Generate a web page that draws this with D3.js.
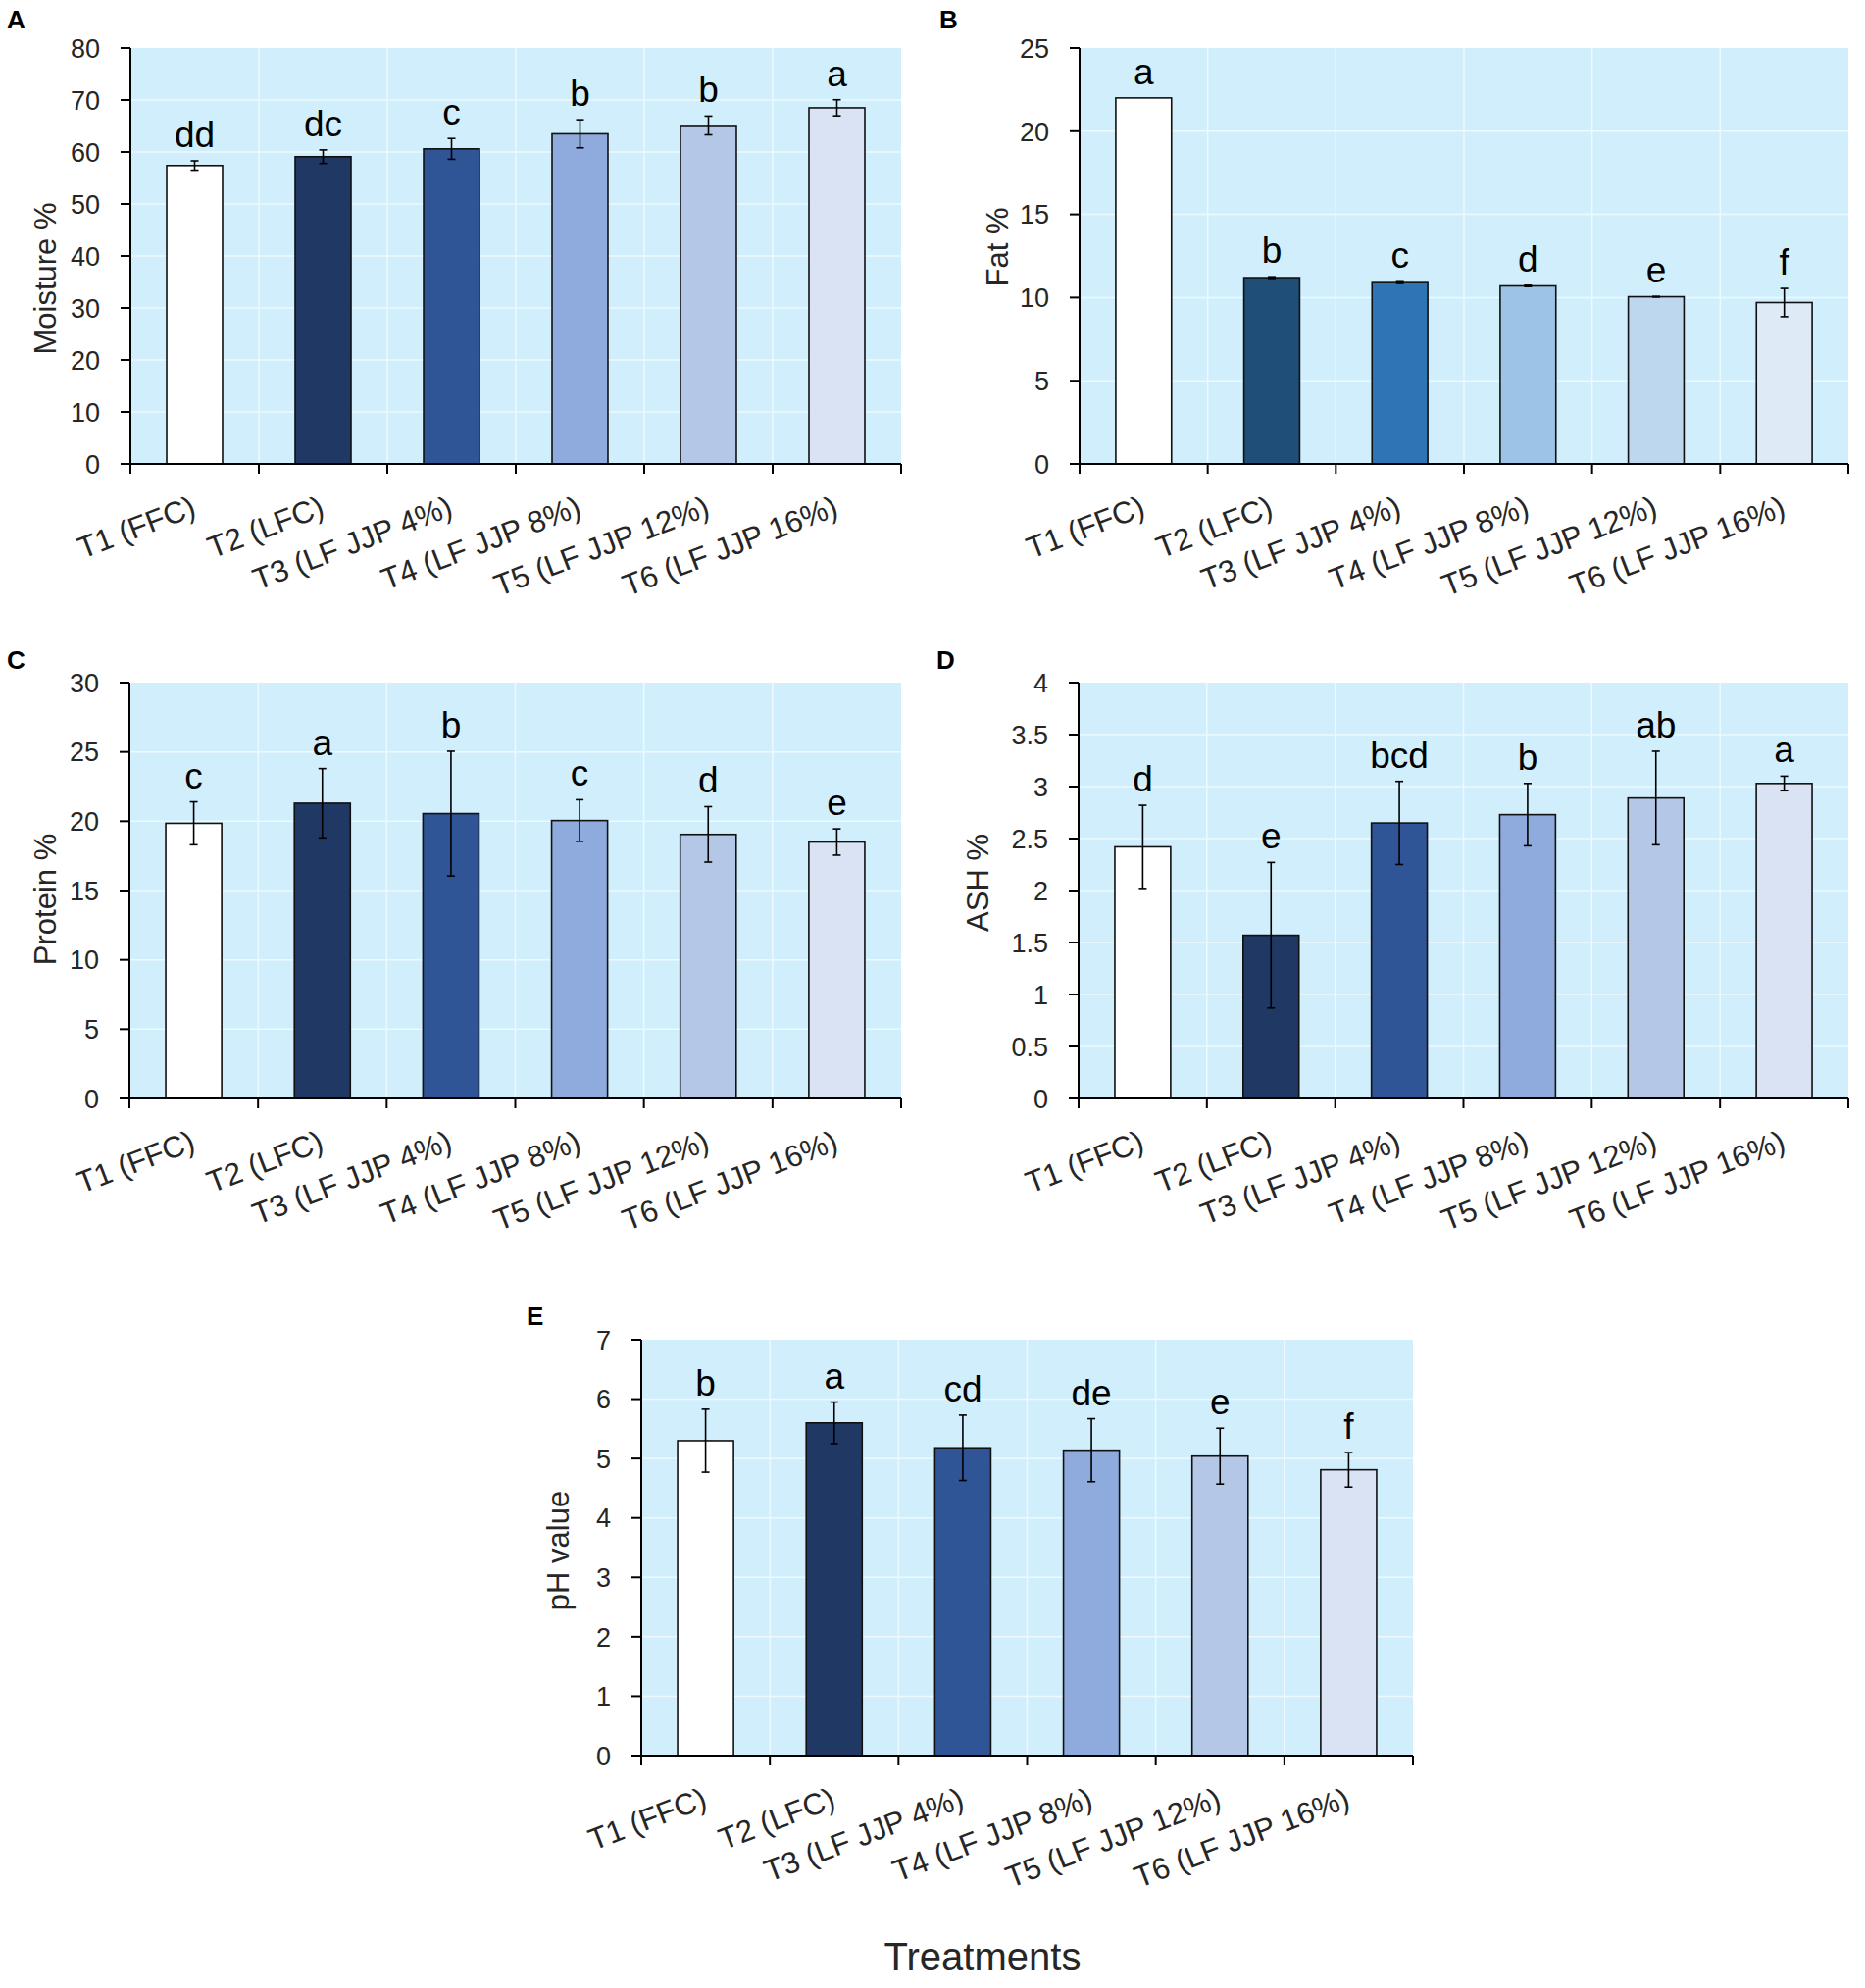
<!DOCTYPE html>
<html>
<head>
<meta charset="utf-8">
<script src="https://cdn.jsdelivr.net/npm/d3@7/dist/d3.min.js"></script>
<style>
  body { margin: 0; background: #fff; }
  svg { display: block; font-family: "Liberation Sans", Arial, sans-serif; }
</style>
</head>
<body>
<svg id="chart" width="1902" height="2027"></svg>
<script>
// treatments on the x axis
var categories = ["T1 (FFC)", "T2 (LFC)", "T3 (LF JJP 4%)", "T4 (LF JJP 8%)", "T5 (LF JJP 12%)", "T6 (LF JJP 16%)"];

// A - moisture
var moisture = [57.4, 59.1, 60.6, 63.5, 65.1, 68.5];
var moistureErr = [0.9, 1.3, 2.0, 2.7, 1.8, 1.55];
var moistureLetters = ["dd", "dc", "c", "b", "b", "a"];

// B - fat
var fat = [22.0, 11.2, 10.9, 10.7, 10.05, 9.7];
var fatErr = [0, 0.05, 0.05, 0.04, 0.02, 0.85];
var fatLetters = ["a", "b", "c", "d", "e", "f"];

// C - protein
var protein = [19.85, 21.3, 20.55, 20.05, 19.05, 18.5];
var proteinErr = [1.55, 2.5, 4.5, 1.5, 2.0, 0.95];
var proteinLetters = ["c", "a", "b", "c", "d", "e"];

// D - ash
var ash = [2.42, 1.57, 2.65, 2.73, 2.89, 3.03];
var ashErr = [0.40, 0.70, 0.40, 0.30, 0.45, 0.07];
var ashLetters = ["d", "e", "bcd", "b", "ab", "a"];

// E - pH
var ph = [5.3, 5.6, 5.18, 5.14, 5.04, 4.81];
var phErr = [0.53, 0.35, 0.55, 0.53, 0.47, 0.29];
var phLetters = ["b", "a", "cd", "de", "e", "f"];

// fill colours
var bluesA = ["#ffffff", "#203864", "#2f5597", "#8faadc", "#b4c7e7", "#dae3f3"];
var bluesB = ["#ffffff", "#1f4e79", "#2e75b6", "#9dc3e6", "#bdd7ee", "#deebf7"];

var svg = d3.select("#chart");

function drawPanel(p) {
  var g = svg.append("g");

  var x = d3.scaleBand()
    .domain(categories)
    .range([p.left, p.right])
    .paddingInner(0.565)
    .paddingOuter(0.2825);
  var step = x.step();

  var y = d3.scaleLinear().domain([0, p.max]).range([p.bottom, p.top]);
  var ticks = d3.range(0, p.max + p.step / 2, p.step);

  // plot background
  g.append("rect")
    .attr("x", p.left).attr("y", p.top)
    .attr("width", p.right - p.left).attr("height", p.bottom - p.top)
    .attr("fill", "#d0eefb");

  // white gridlines
  g.selectAll(".hgrid").data(ticks.filter(function (t) { return t > 0 && t < p.max; }))
    .enter().append("line")
    .attr("x1", p.left).attr("x2", p.right)
    .attr("y1", function (d) { return y(d); }).attr("y2", function (d) { return y(d); })
    .attr("stroke", "#eef9fe").attr("stroke-width", 1.5);
  g.selectAll(".vgrid").data(d3.range(1, categories.length))
    .enter().append("line")
    .attr("x1", function (i) { return p.left + i * step; })
    .attr("x2", function (i) { return p.left + i * step; })
    .attr("y1", p.top).attr("y2", p.bottom)
    .attr("stroke", "#eef9fe").attr("stroke-width", 1.5);

  // bars
  g.selectAll(".bar").data(p.values)
    .enter().append("rect")
    .attr("x", function (d, i) { return x(categories[i]); })
    .attr("y", function (d) { return y(d); })
    .attr("width", x.bandwidth())
    .attr("height", function (d) { return y(0) - y(d); })
    .attr("fill", function (d, i) { return p.colors[i]; })
    .attr("stroke", "#111").attr("stroke-width", 1.6);

  // error bars + letters
  p.values.forEach(function (v, i) {
    var cx = x(categories[i]) + x.bandwidth() / 2;
    var e = p.errors[i];
    if (e > 0) {
      var eb = g.append("g").attr("stroke", "#000").attr("stroke-width", 1.6);
      eb.append("line").attr("x1", cx).attr("x2", cx).attr("y1", y(v - e)).attr("y2", y(v + e));
      eb.append("line").attr("x1", cx - 4).attr("x2", cx + 4).attr("y1", y(v - e)).attr("y2", y(v - e));
      eb.append("line").attr("x1", cx - 4).attr("x2", cx + 4).attr("y1", y(v + e)).attr("y2", y(v + e));
    }
    g.append("text")
      .attr("x", cx).attr("y", y(v + e) - 14)
      .attr("text-anchor", "middle")
      .attr("font-size", 37).attr("fill", "#000")
      .text(p.letters[i]);
  });

  // y axis
  g.append("line")
    .attr("x1", p.left).attr("x2", p.left).attr("y1", p.top).attr("y2", p.bottom)
    .attr("stroke", "#000").attr("stroke-width", 2);
  ticks.forEach(function (t) {
    g.append("line")
      .attr("x1", p.left - 10).attr("x2", p.left)
      .attr("y1", y(t)).attr("y2", y(t))
      .attr("stroke", "#000").attr("stroke-width", 2);
    g.append("text")
      .attr("x", p.left - 31).attr("y", y(t))
      .attr("dy", "0.36em")
      .attr("text-anchor", "end")
      .attr("font-size", 27).attr("fill", "#262626")
      .text(d3.format("~g")(t));
  });

  // x axis
  g.append("line")
    .attr("x1", p.left).attr("x2", p.right).attr("y1", p.bottom).attr("y2", p.bottom)
    .attr("stroke", "#000").attr("stroke-width", 2);
  d3.range(0, categories.length + 1).forEach(function (i) {
    g.append("line")
      .attr("x1", p.left + i * step).attr("x2", p.left + i * step)
      .attr("y1", p.bottom).attr("y2", p.bottom + 10)
      .attr("stroke", "#000").attr("stroke-width", 2);
  });
  categories.forEach(function (c) {
    var cx = x(c) + x.bandwidth() / 2;
    g.append("text")
      .attr("transform", "translate(" + (cx + 3) + "," + (p.bottom + 52) + ") rotate(-21)")
      .attr("text-anchor", "end")
      .attr("font-size", 31).attr("fill", "#262626")
      .text(c);
  });

  // y title
  g.append("text")
    .attr("transform", "translate(" + p.titleX + "," + p.titleY + ") rotate(-90)")
    .attr("text-anchor", "middle")
    .attr("font-size", 31).attr("fill", "#262626")
    .text(p.title);

  // panel letter
  g.append("text")
    .attr("x", p.tagX).attr("y", p.tagY)
    .attr("font-size", 26).attr("font-weight", "bold").attr("fill", "#000")
    .text(p.tag);
}

drawPanel({ tag: "A", tagX: 7, tagY: 29, left: 133, right: 919, top: 49, bottom: 473, max: 80, step: 10,
  values: moisture, errors: moistureErr, letters: moistureLetters, colors: bluesA,
  title: "Moisture %", titleX: 57, titleY: 284 });
drawPanel({ tag: "B", tagX: 958, tagY: 29, left: 1101, right: 1885, top: 49, bottom: 473, max: 25, step: 5,
  values: fat, errors: fatErr, letters: fatLetters, colors: bluesB,
  title: "Fat %", titleX: 1028, titleY: 252 });
drawPanel({ tag: "C", tagX: 7, tagY: 682, left: 132, right: 919, top: 696, bottom: 1120, max: 30, step: 5,
  values: protein, errors: proteinErr, letters: proteinLetters, colors: bluesA,
  title: "Protein %", titleX: 57, titleY: 917 });
drawPanel({ tag: "D", tagX: 955, tagY: 682, left: 1100, right: 1885, top: 696, bottom: 1120, max: 4, step: 0.5,
  values: ash, errors: ashErr, letters: ashLetters, colors: bluesA,
  title: "ASH %", titleX: 1008, titleY: 900 });
drawPanel({ tag: "E", tagX: 537, tagY: 1351, left: 654, right: 1441, top: 1366, bottom: 1790, max: 7, step: 1,
  values: ph, errors: phErr, letters: phLetters, colors: bluesA,
  title: "pH value", titleX: 580, titleY: 1581 });

// shared x title
svg.append("text")
  .attr("x", 1002).attr("y", 2009)
  .attr("text-anchor", "middle")
  .attr("font-size", 40).attr("fill", "#262626")
  .text("Treatments");
</script>
</body>
</html>
